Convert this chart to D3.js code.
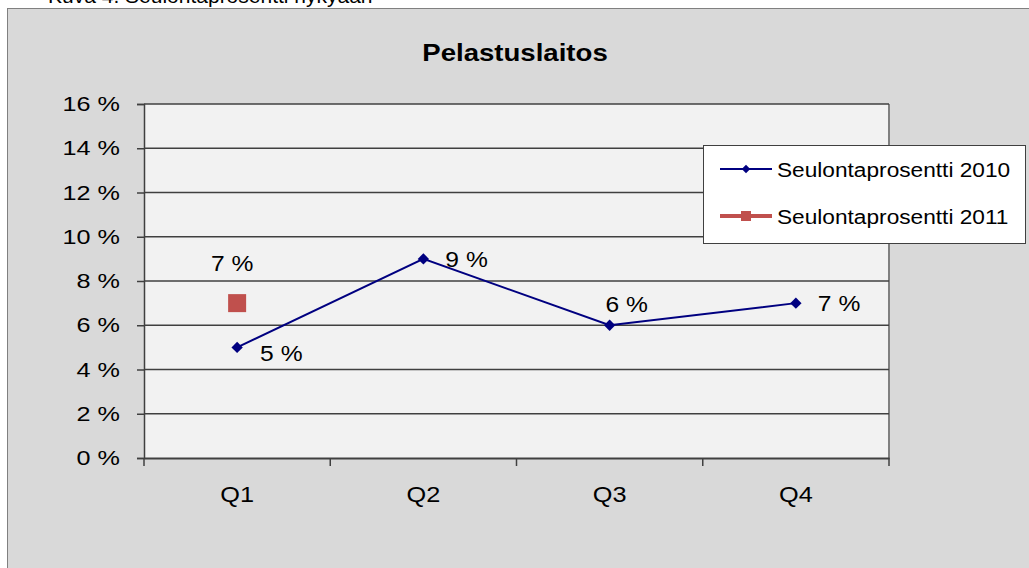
<!DOCTYPE html>
<html><head><meta charset="utf-8">
<script src="https://cdn.jsdelivr.net/npm/d3@7"></script>
<style>body{margin:0;background:#fff;}svg{display:block;font-family:"Liberation Sans",Arial,sans-serif;}</style>
</head><body>
<script>
const categories = ["Q1","Q2","Q3","Q4"];
const series2010 = [5, 9, 6, 7];
const series2011 = [7, null, null, null];
const yTicks = [0,2,4,6,8,10,12,14,16];
const seriesNames = ["Seulontaprosentti 2010","Seulontaprosentti 2011"];
const title = "Pelastuslaitos";
const caption = "Kuva 4. Seulontaprosentti nykyään";
const labelPos2010 = ["belowRight","right","above","right"];
const labelPos2011 = ["above"];

const W=1029,H=568;
const svg=d3.select("body").append("svg").attr("width",W).attr("height",H);
function stretch(sel,sx){
  sel.attr("transform",function(){
    const xx=+d3.select(this).attr("x")||0, yy=+d3.select(this).attr("y")||0;
    return `matrix(${sx},0,0,1,${xx*(1-sx)},0)`;
  });
}
svg.append("rect").attr("width",W).attr("height",H).attr("fill","#fff");
svg.append("text").attr("x",48).attr("y",3).attr("font-size",21).attr("fill","#000").text(caption);
svg.append("rect").attr("x",7.5).attr("y",8.5).attr("width",1030).attr("height",570).attr("fill","#d9d9d9").attr("stroke","#808080");

const m={l:144,r:889,t:104,b:458};
const x=d3.scaleBand().domain(categories).range([m.l,m.r]);
const y=d3.scaleLinear().domain([0,16]).range([m.b,m.t]);

svg.append("rect").attr("x",m.l).attr("y",m.t).attr("width",m.r-m.l).attr("height",m.b-m.t).attr("fill","#f2f2f2");
svg.append("line").attr("x1",m.r).attr("x2",m.r).attr("y1",m.t).attr("y2",m.b).attr("stroke","#808080").attr("stroke-width",2);

const ya=svg.append("g").attr("transform",`translate(${m.l},0)`)
 .call(d3.axisLeft(y).tickValues(yTicks).tickSize(7).tickPadding(17).tickFormat(d=>d+" %"));
ya.select(".domain").attr("stroke","#404040").attr("stroke-width",1.5);
ya.selectAll(".tick line").attr("stroke","#404040").attr("stroke-width",1.5);
ya.selectAll(".tick text").attr("font-size",21).attr("fill","#000").attr("font-family","Liberation Sans, Arial, sans-serif").call(stretch,1.2);
svg.append("g").selectAll("line").data(yTicks.filter(d=>d>0)).join("line")
 .attr("x1",m.l).attr("x2",m.r).attr("y1",d=>y(d)).attr("y2",d=>y(d)).attr("stroke","#404040").attr("stroke-width",1.5);

const xa=svg.append("g").attr("transform",`translate(0,${m.b})`)
 .call(d3.axisBottom(x).tickSize(0).tickPadding(28));
xa.select(".domain").attr("stroke","#404040").attr("stroke-width",2);
xa.selectAll(".tick text").attr("font-size",22).attr("fill","#000").attr("font-family","Liberation Sans, Arial, sans-serif").call(stretch,1.15);
const bounds=categories.map(c=>x(c)).concat([m.r]);
svg.append("g").selectAll("line").data(bounds).join("line")
 .attr("x1",d=>d).attr("x2",d=>d).attr("y1",m.b).attr("y2",m.b+8).attr("stroke","#404040").attr("stroke-width",1.5);

svg.append("text").attr("x",515).attr("y",61).attr("text-anchor","middle").attr("font-size",23).attr("font-weight","bold").text(title).call(stretch,1.2);

const cx=c=>x(c)+x.bandwidth()/2;
const pts=categories.map((c,i)=>({c,v:series2010[i],p:labelPos2010[i]}));
svg.append("path").datum(pts).attr("fill","none").attr("stroke","#000080").attr("stroke-width",2)
 .attr("d",d3.line().x(d=>cx(d.c)).y(d=>y(d.v)));
svg.append("g").selectAll("path").data(pts).join("path")
 .attr("d",d3.symbol(d3.symbolSquare,64)).attr("transform",d=>`translate(${cx(d.c)},${y(d.v)}) rotate(45)`).attr("fill","#000080");
const off={right:[22,8,"start"],belowRight:[23,14,"start"],above:[17,-13,"middle"]};
svg.append("g").selectAll("text").data(pts).join("text")
 .attr("x",d=>cx(d.c)+off[d.p][0]).attr("y",d=>y(d.v)+off[d.p][1]).attr("text-anchor",d=>off[d.p][2])
 .attr("font-size",22).text(d=>d.v+" %").call(stretch,1.12);

const pts2=categories.map((c,i)=>({c,v:series2011[i],p:labelPos2011[i]})).filter(d=>d.v!=null);
svg.append("g").selectAll("rect").data(pts2).join("rect")
 .attr("x",d=>cx(d.c)-9).attr("y",d=>y(d.v)-9).attr("width",18).attr("height",18).attr("fill","#c0504d");
svg.append("g").selectAll("text").data(pts2).join("text")
 .attr("x",d=>cx(d.c)-5).attr("y",d=>y(d.v)-32).attr("text-anchor","middle").attr("font-size",22).text(d=>d.v+" %").call(stretch,1.12);

const lg=svg.append("g");
lg.append("rect").attr("x",703.5).attr("y",145.5).attr("width",322).attr("height",98).attr("fill","#fff").attr("stroke","#404040");
const ly=[169,216];
lg.append("line").attr("x1",720).attr("x2",772).attr("y1",ly[0]).attr("y2",ly[0]).attr("stroke","#000080").attr("stroke-width",2);
lg.append("path").attr("d",d3.symbol(d3.symbolSquare,36)).attr("transform",`translate(746,${ly[0]}) rotate(45)`).attr("fill","#000080");
lg.append("line").attr("x1",720).attr("x2",772).attr("y1",ly[1]).attr("y2",ly[1]).attr("stroke","#c0504d").attr("stroke-width",4);
lg.append("rect").attr("x",741).attr("y",ly[1]-5).attr("width",10).attr("height",10).attr("fill","#c0504d");
seriesNames.forEach((n,i)=>lg.append("text").attr("x",777).attr("y",ly[i]+8).attr("font-size",21).text(n).call(stretch,1.08));
</script>
</body></html>
